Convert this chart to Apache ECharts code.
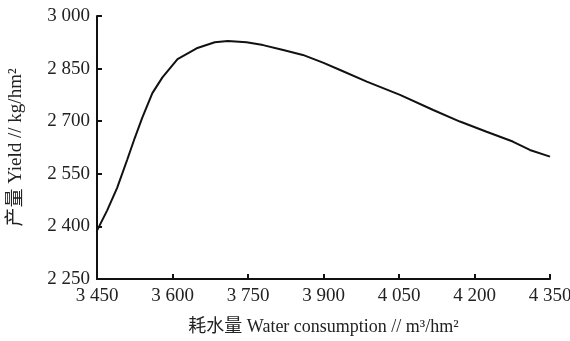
<!DOCTYPE html>
<html>
<head>
<meta charset="utf-8">
<script src="https://cdn.jsdelivr.net/npm/echarts@6/dist/echarts.min.js"></script>
<style>
  html, body { margin: 0; padding: 0; background: #fff; }
  #chart { width: 570px; height: 341px; }
</style>
</head>
<body>
<div id="chart"></div>
<script>
  // water consumption (m3/hm2) vs yield (kg/hm2)
  const waterUse = [3450, 3470, 3490, 3510, 3525, 3540, 3560, 3580, 3610, 3648, 3684, 3710, 3747, 3780, 3820, 3859, 3899, 3933, 3986, 4052, 4118, 4171, 4224, 4276, 4310, 4350];
  const yieldValues = [2388, 2445, 2510, 2590, 2652, 2710, 2780, 2825, 2877, 2908, 2925, 2929, 2925, 2917, 2903, 2889, 2867, 2846, 2813, 2775, 2732, 2699, 2670, 2642, 2618, 2599];
  const xTicks = [3450, 3600, 3750, 3900, 4050, 4200, 4350];
  const yTicks = [2250, 2400, 2550, 2700, 2850, 3000];

  const serif = "'Liberation Serif', 'Noto Sans CJK SC', serif";

  function fmt(v) {
    const s = String(Math.round(v));
    return s.slice(0, s.length - 3) + " " + s.slice(-3);
  }

  const chart = echarts.init(document.getElementById("chart"));
  chart.setOption({
    animation: false,
    grid: { left: 97, right: 20, top: 16, bottom: 62, outerBoundsMode: "none" },
    xAxis: {
      type: "value",
      min: xTicks[0],
      max: xTicks[xTicks.length - 1],
      interval: 150,
      name: "耗水量 Water consumption // m³/hm²",
      nameLocation: "middle",
      nameGap: 39,
      nameMoveOverlap: false,
      nameTextStyle: { fontFamily: serif, fontSize: 18, color: "#222" },
      axisLine: { lineStyle: { color: "#111", width: 2 } },
      axisTick: { inside: true, length: 5, lineStyle: { color: "#111", width: 2 } },
      axisLabel: { fontFamily: serif, fontSize: 19, color: "#222", margin: 8, formatter: fmt },
      splitLine: { show: false }
    },
    yAxis: {
      type: "value",
      min: yTicks[0],
      max: yTicks[yTicks.length - 1],
      interval: 150,
      name: "产量 Yield // kg/hm²",
      nameLocation: "middle",
      nameGap: 71,
      nameMoveOverlap: false,
      nameTextStyle: { fontFamily: serif, fontSize: 19, color: "#222" },
      axisLine: { show: true, lineStyle: { color: "#111", width: 2 } },
      axisTick: { show: true, inside: true, length: 5, lineStyle: { color: "#111", width: 2 } },
      axisLabel: { fontFamily: serif, fontSize: 19, color: "#222", margin: 7, formatter: fmt },
      splitLine: { show: false }
    },
    series: [{
      type: "line",
      data: waterUse.map((x, i) => [x, yieldValues[i]]),
      showSymbol: false,
      smooth: false,
      lineStyle: { color: "#111", width: 2 }
    }]
  });
</script>
</body>
</html>
